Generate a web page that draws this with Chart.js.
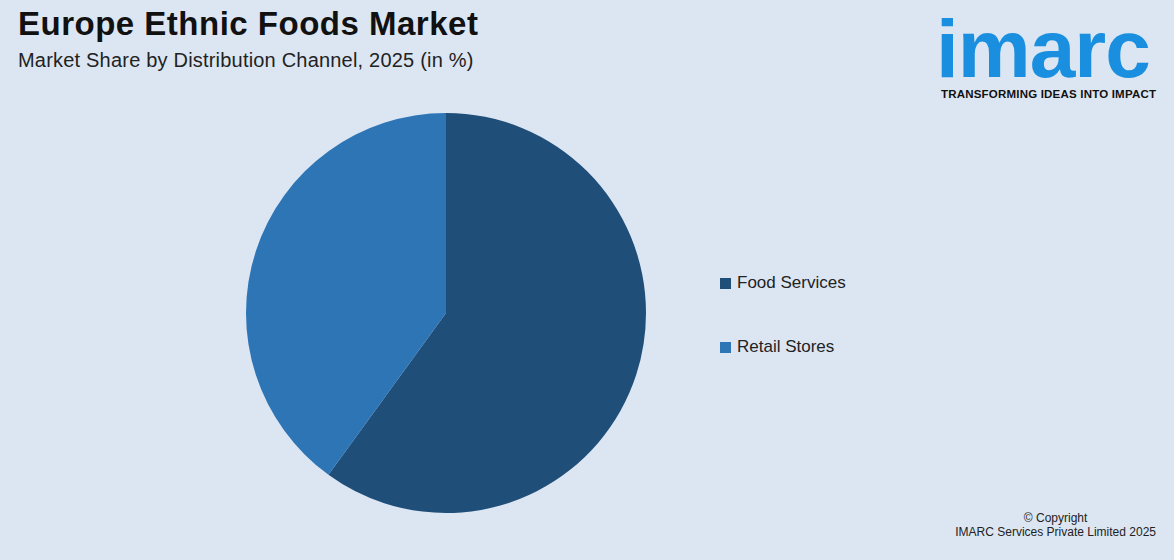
<!DOCTYPE html>
<html><head><meta charset="utf-8">
<script src="https://cdn.jsdelivr.net/npm/chart.js@4"></script>
<style>
body{margin:0;width:1174px;height:560px;background:#dce6f3;font-family:Arial,"Liberation Sans",sans-serif;position:relative;overflow:hidden}
#t{position:absolute;left:18px;top:5px;font-size:33px;font-weight:bold;color:#111;letter-spacing:0.5px}
#s{position:absolute;left:18px;top:49px;font-size:20px;color:#222;letter-spacing:0.2px}
#pc{position:absolute;left:236px;top:103px;width:420px;height:420px}
#lg{position:absolute;left:720px;top:272px;font-size:17px;color:#222}
.li{display:flex;align-items:center;height:22px;margin-bottom:42px}
.sw{width:11px;height:11px;margin-right:6px}
#logo{position:absolute;left:936px;top:8px;color:#1a8fe0;font-size:82px;font-weight:bold;letter-spacing:-1px;line-height:82px}
#tag{position:absolute;left:941px;top:88px;font-size:11.5px;font-weight:bold;color:#111;letter-spacing:0.2px}
#cp{position:absolute;right:18px;top:511px;font-size:12px;color:#222;text-align:center}
</style></head><body>
<div id="t">Europe Ethnic Foods Market</div>
<div id="s">Market Share by Distribution Channel, 2025 (in %)</div>
<div id="logo">imarc</div>
<div id="tag">TRANSFORMING IDEAS INTO IMPACT</div>
<div id="pc"><canvas id="c"></canvas></div>
<div id="lg"></div>
<div id="cp">© Copyright<br>IMARC Services Private Limited 2025</div>
<script>
const categories=["Food Services","Retail Stores"];
const shares=[60,40];
const colors=["#1f4e79","#2e75b6"];
const lg=document.getElementById('lg');
categories.forEach((c,i)=>{lg.innerHTML+=`<div class="li"><div class="sw" style="background:${colors[i]}"></div>${c}</div>`;});
new Chart(document.getElementById('c'),{type:'pie',data:{labels:categories,datasets:[{data:shares,backgroundColor:colors,borderWidth:0}]},
options:{responsive:true,maintainAspectRatio:false,animation:false,layout:{padding:10},plugins:{legend:{display:false},tooltip:{enabled:false}}}});
</script>
</body></html>
